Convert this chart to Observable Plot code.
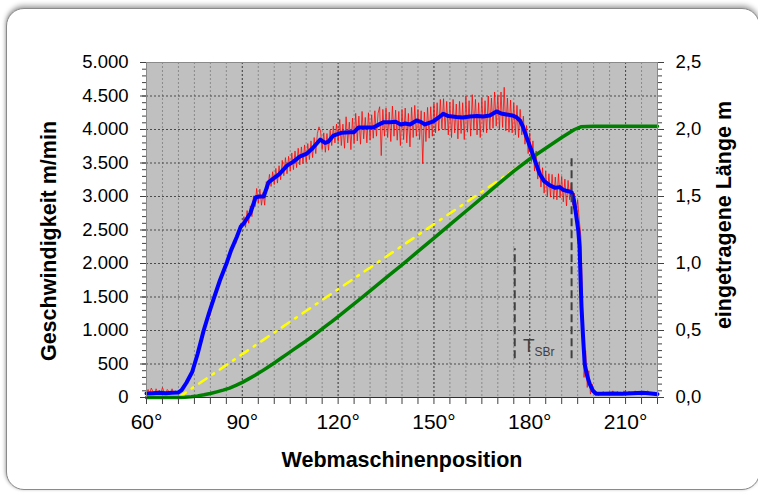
<!DOCTYPE html>
<html><head><meta charset="utf-8">
<script src="https://cdn.jsdelivr.net/npm/d3@7"></script>
<script src="https://cdn.jsdelivr.net/npm/@observablehq/plot@0.6"></script>
<style>
html,body{margin:0;padding:0;background:#fff;width:758px;height:493px;overflow:hidden;}
#frame{position:absolute;left:6px;top:8px;width:752px;height:480px;border:1.5px solid #8a8a8a;border-radius:18px;box-shadow:0 -3px 5px rgba(0,0,0,0.3),-1px 0 3px rgba(0,0,0,0.15);background:#fff;}
#chart{position:absolute;left:0;top:0;}
</style></head><body>
<div id="frame"></div><div id="chart"></div>
<script>
// x axis ticks (Webmaschinenposition, degrees)
const xTicks = [60, 90, 120, 150, 180, 210];
const xMinor = d3.range(60, 221, 5);
// left axis ticks (Geschwindigkeit m/min)
const yTicks = [0, 500, 1000, 1500, 2000, 2500, 3000, 3500, 4000, 4500, 5000];
const yMinor = d3.range(0, 5001, 100);
// right axis: eingetragene Länge m
const rightMax = 2.5;
const rightTicks = [0, 0.5, 1.0, 1.5, 2.0, 2.5];

// smoothed speed (blue)
const blueDeg = [60,62,64,66,68,70,71,72.5,74.3,76,77.9,79.5,81,83,85.2,86.5,88.3,89.5,90.5,92.5,94.2,95.5,96.7,98.2,99.8,101.5,104,106,108.1,110.2,112,114.4,115.9,117,118.5,121,123.8,125,126.4,128.5,131.2,133,134.3,136.3,138,139.6,141,142.5,144.6,146,147.2,148.5,149.8,151.5,152.9,154.5,157.1,159,161.3,163.5,165.4,167.5,169.6,171,172.7,174.5,175.8,177,177.8,179,180.5,181.6,183.1,184.5,186.3,188,189.4,190.5,191.5,193.1,193.8,194.3,195.2,195.6,196.2,196.7,197.2,198,198.8,199.8,200.8,203,206,209,212,215.4,218,220];
const blueVal = [60,65,70,65,70,75,110,220,380,650,1000,1250,1470,1750,2020,2200,2400,2550,2600,2750,2990,3000,3000,3210,3270,3330,3460,3520,3600,3640,3720,3850,3800,3820,3910,3950,3960,3960,4030,4030,4035,4080,4110,4110,4115,4075,4090,4075,4135,4110,4075,4100,4120,4180,4235,4200,4185,4180,4195,4200,4195,4210,4270,4240,4225,4210,4185,4130,4050,3885,3690,3540,3340,3230,3165,3130,3140,3100,3085,3065,2950,2800,2490,2250,1350,900,500,320,200,100,55,55,60,55,65,70,60,50];

// raw speed (red), sampled every 0.5 degree, in segments
const redStep = 0.5;
const red60 = [80,120,60,140,90,50,130,70,110,60,150,80,60,120,90,70,130,60,100,80,90];
const red70 = [110,90,170,160,240,250,330,340,420,460,590,640,770,830,950,1000,1110,1160,1270,1240,1420,1460,1560,1600,1700,1740,1840,1870,1960,1990,2100,2120,2230,2240,2340,2300,2450,2480,2600,2560];
const red90 = [2700,2540,2790,2600,2860,2700,3010,2850,3120,2900,3110,2870,3060,2870,3220,3110,3330,3150,3370,3180];
const red100 = [3420,3200,3460,3250,3540,3310,3580,3340,3600,3380,3650,3400,3680,3430,3720,3470,3740,3490,3770,3510,3790,3550,3830,3580,3880,3640,3940,4040,3980,3700,3950,3660,3940,3690,3990,3760,4050,3800,4080,3820];
const red120 = [4150,3760,4080,3720,4190,3800,4110,3700,4170,3790,4240,3830,4200,3780,4270,3860,4180,3800,4250,3840,4220,3870,4280,3900,4240,4340,3610,4300,3900,4320,3880,4260,3820,4350,3900,4290,3840,4270,3760,4300,3850,4320,3800,4240,3740,4330,3880,4360,3900,4300,3850,4280,3490,4260,3820,4330,3870,4340,3900,4380,3950,4400,3980,4450,4010,4460,3990,4420,3920,4410,3880,4450,3950,4380,3860,4420,3940,4400,3850,4500,3960,4430,3900,4520,3990,4450,3920,4400,3880,4480,3960,4430,3950,4500,4000,4470,4020,4560,4050,4510,4000,4560,4030,4630,3980,4470,3960,4440,3950,4400,3920,4360,3880,4300];
const red177 = [3920,4200,3780,4060,3640,3950,3520,3830,3380,3680,3260,3520,3140,3430,3050,3380,3010,3340,2990,3330,2960,3290,2950,3340,2980,3300,2920,3260,2860,3240,2950,3200,2870,3050,2750,2950,2650,2400,1500,300,700,150,400,50,200,60];
const red200 = [40,70,30,80,60,90,50,70,40,80,60,100,50,70,90,60,80,50,100,70,60,90,80,50,70,100,60,80,50,90,70,60,80,100,60,70,50,80,60,50];
const redSegments = [[60, red60], [70.5, red70], [90.5, red90], [100.5, red100], [120.5, red120], [177.5, red177], [200.5, red200]];

// eingetragene Länge (green), metres
const greenDeg = [60,70,72,74,76,78,80,82,84,86,88,90,92,94,96,98,100,102,104,106,108,110,112,114,116,118,120,124,128,132,136,140,145,150,155,160,165,170,175,180,185,190,194,196,200,220];
const greenLen = [0,0,0.002,0.006,0.012,0.02,0.03,0.042,0.055,0.07,0.09,0.113,0.139,0.166,0.195,0.226,0.258,0.291,0.324,0.357,0.39,0.423,0.457,0.493,0.53,0.566,0.604,0.68,0.757,0.835,0.913,0.99,1.09,1.19,1.29,1.39,1.49,1.59,1.69,1.78,1.86,1.94,2.0,2.02,2.025,2.025];

// yellow dash-dot reference line, metres
const yellowDeg = [70, 192.5];
const yellowLen = [0, 1.98];

// dashed markers (degrees, m/min)
const markerDeg = [175.3, 193.1];
const markerLow = [578, 578];
const markerHigh = [2220, 3612];
// T_SBr annotation
const annoDeg = [177.9, 181.5];
const annoVal = [676, 612];
const annoText = ["T", "SBr"];

// ---- build tables ----
const yMax = 5000;
const k = yMax / rightMax; // right-axis metres -> left-axis units
const blue = blueDeg.map((d, i) => ({x: d, y: blueVal[i]}));
const red = redSegments.flatMap(([s, arr]) => arr.map((v, i) => ({x: s + i * redStep, y: v})));
const green = greenDeg.map((d, i) => ({x: d, y: greenLen[i] * k}));
const yellow = yellowDeg.map((d, i) => ({x: d, y: yellowLen[i] * k}));
const markers = markerDeg.map((d, i) => ({x: d, y1: markerLow[i], y2: markerHigh[i]}));
const annos = annoDeg.map((d, i) => ({x: d, y: annoVal[i], t: annoText[i], s: i === 0 ? 19 : 12}));

const de = d3.formatLocale({decimal: ",", thousands: ".", grouping: [3], currency: ["", "€"]});
const fmtL = de.format(",d");
const fmtR = d => de.format(".1f")(d / k);

const FONT = "'Liberation Sans', Arial, Helvetica, sans-serif";

const plot = Plot.plot({
  width: 758, height: 493,
  marginLeft: 146, marginRight: 101, marginTop: 62, marginBottom: 96,
  x: {domain: [60, 220]},
  y: {domain: [0, yMax]},
  style: {background: "transparent", fontFamily: FONT, color: "#000", overflow: "visible"},
  marks: [
    Plot.frame({fill: "#c0c0c0", stroke: "none"}),
    Plot.ruleX(xMinor, {stroke: "#8a8a8a", strokeDasharray: "2,2", strokeWidth: 1}),
    Plot.ruleX(xTicks.filter(d => d > 60), {stroke: "#4a4a4a", strokeDasharray: "2,2", strokeWidth: 1}),
    Plot.ruleY(yTicks.filter(d => d > 0), {stroke: "#4a4a4a", strokeDasharray: "2,2", strokeWidth: 1}),
    Plot.line(red, {x: "x", y: "y", stroke: "#ff0000", strokeWidth: 1, strokeOpacity: 0.75}),
    Plot.line(yellow, {x: "x", y: "y", stroke: "#ffff00", strokeWidth: 2.5, strokeDasharray: "9,7,2,7"}),
    Plot.line(green, {x: "x", y: "y", stroke: "#008000", strokeWidth: 3.5}),
    Plot.line(blue, {x: "x", y: "y", stroke: "#0000ff", strokeWidth: 4, strokeLinejoin: "round"}),
    Plot.ruleX(markers, {x: "x", y1: "y1", y2: "y2", stroke: "#404040", strokeWidth: 2, strokeDasharray: "8,4"}),
    Plot.text(annos, {x: "x", y: "y", text: "t", fontSize: d => d.s, textAnchor: "start", lineAnchor: "bottom", fill: "#404040"}),
    Plot.frame({stroke: "#8a8a8a"}),
    Plot.ruleY([0], {stroke: "#303030", strokeWidth: 1}),
    Plot.axisX({ticks: xMinor, tickSize: 7, fill: "none", stroke: "#404040", label: null}),
    Plot.axisX({ticks: xTicks, tickSize: 0, tickPadding: 17, tickFormat: d => d + "°", fontSize: 21, fill: "#000", label: null}),
    Plot.axisY({ticks: yMinor, tickSize: 4, fill: "none", stroke: "#404040", label: null}),
    Plot.axisY({ticks: yTicks, tickSize: 6, tickPadding: 12, tickFormat: fmtL, fontSize: 18.5, fill: "#000", stroke: "#404040", label: null}),
    Plot.axisY({anchor: "right", ticks: yMinor, tickSize: 4, fill: "none", stroke: "#404040", label: null}),
    Plot.axisY({anchor: "right", ticks: rightTicks.map(d => d * k), tickSize: 6, tickPadding: 12, tickFormat: fmtR, fontSize: 18.5, fill: "#000", stroke: "#404040", label: null})
  ]
});
document.getElementById("chart").appendChild(plot);

const svg = d3.select(plot);
svg.append("text").attr("transform", "translate(56,241) rotate(-90)")
  .attr("text-anchor", "middle").attr("font-family", FONT).attr("font-weight", "bold")
  .attr("font-size", 21.5).attr("fill", "#000").text("Geschwindigkeit m/min");
svg.append("text").attr("transform", "translate(731,215) rotate(-90)")
  .attr("text-anchor", "middle").attr("font-family", FONT).attr("font-weight", "bold")
  .attr("font-size", 21.5).attr("fill", "#000").text("eingetragene Länge m");
svg.append("text").attr("x", 402).attr("y", 467)
  .attr("text-anchor", "middle").attr("font-family", FONT).attr("font-weight", "bold")
  .attr("font-size", 21.5).attr("fill", "#000").text("Webmaschinenposition");
</script></body></html>
